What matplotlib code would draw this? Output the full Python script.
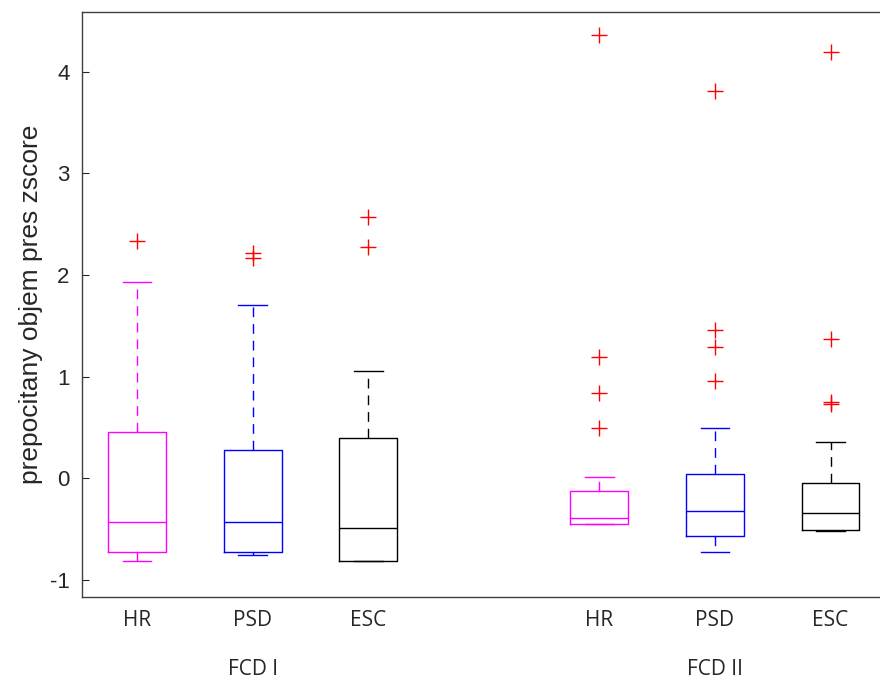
import matplotlib
matplotlib.use("Agg")
import matplotlib.pyplot as plt
import matplotlib.transforms as mtransforms

# box statistics (zscore units)
positions = [1, 2, 3, 5, 6, 7]
categories = ["HR", "PSD", "ESC", "HR", "PSD", "ESC"]
groups = ["FCD I", "FCD II"]
group_pos = [2, 6]

medians = [-0.43, -0.43, -0.49, -0.39, -0.32, -0.345]
q1 = [-0.73, -0.73, -0.81, -0.45, -0.57, -0.505]
q3 = [0.46, 0.28, 0.40, -0.125, 0.046, -0.05]
wlo = [-0.81, -0.76, -0.81, -0.45, -0.73, -0.52]
whi = [1.93, 1.71, 1.06, 0.01, 0.49, 0.36]
fliers = [
    [2.34],
    [2.22, 2.17],
    [2.57, 2.28],
    [4.36, 1.195, 0.84, 0.49],
    [3.81, 1.46, 1.29, 0.96],
    [4.20, 1.37, 0.75, 0.73],
]
colors = ["#ff00ff", "#0000ff", "#000000", "#ff00ff", "#0000ff", "#000000"]

plt.rcParams["font.family"] = ["Liberation Sans", "DejaVu Sans"]
xfont = ["Open Sans", "Liberation Sans"]

fig = plt.figure(figsize=(8.8, 6.84), dpi=100)
ax = fig.add_axes([0.0932, 0.127, 0.915, 0.8555])

stats = []
for i in range(len(positions)):
    stats.append(dict(med=medians[i], q1=q1[i], q3=q3[i],
                      whislo=wlo[i], whishi=whi[i], fliers=fliers[i]))

for i, s in enumerate(stats):
    c = colors[i]
    ax.bxp([s], positions=[positions[i]], widths=0.5, capwidths=0.25,
           showfliers=True, patch_artist=False,
           boxprops=dict(color=c, linewidth=1.0),
           medianprops=dict(color=c, linewidth=1.0),
           whiskerprops=dict(color=c, linewidth=1.0, linestyle=(0, (7, 5))),
           capprops=dict(color=c, linewidth=1.0),
           flierprops=dict(marker="+", markeredgecolor="red",
                           markersize=11, markeredgewidth=1.0))

ax.set_xlim(0.524, 7.49)
ax.set_ylim(-1.17, 4.59)

ax.set_yticks([-1, 0, 1, 2, 3, 4])
ax.set_yticklabels(["-1", "0", "1", "2", "3", "4"])
ax.set_xticks(positions)
ax.set_xticklabels(categories, fontsize=15, family=xfont)
ax.set_xticks(group_pos, minor=True)

ax.tick_params(axis="y", direction="in", length=5, labelsize=16, pad=9,
               colors="#262626", left=True, right=False)
ax.tick_params(axis="x", which="major", length=0, pad=9, labelcolor="#262626")
ax.tick_params(axis="x", which="minor", direction="in", length=5,
               top=True, bottom=True, color="#404040")

for sp in ax.spines.values():
    sp.set_color("#404040")
    sp.set_linewidth(1.0)

trans = mtransforms.blended_transform_factory(ax.transData, ax.transAxes)
for g, gp in zip(groups, group_pos):
    ax.text(gp, -0.123, g, transform=trans, ha="center", va="center",
            fontsize=15, color="#262626", family=xfont)

ax.set_ylabel("prepocitany objem pres zscore", fontsize=19, color="#262626", labelpad=5)

fig.savefig("out.png", dpi=100)
